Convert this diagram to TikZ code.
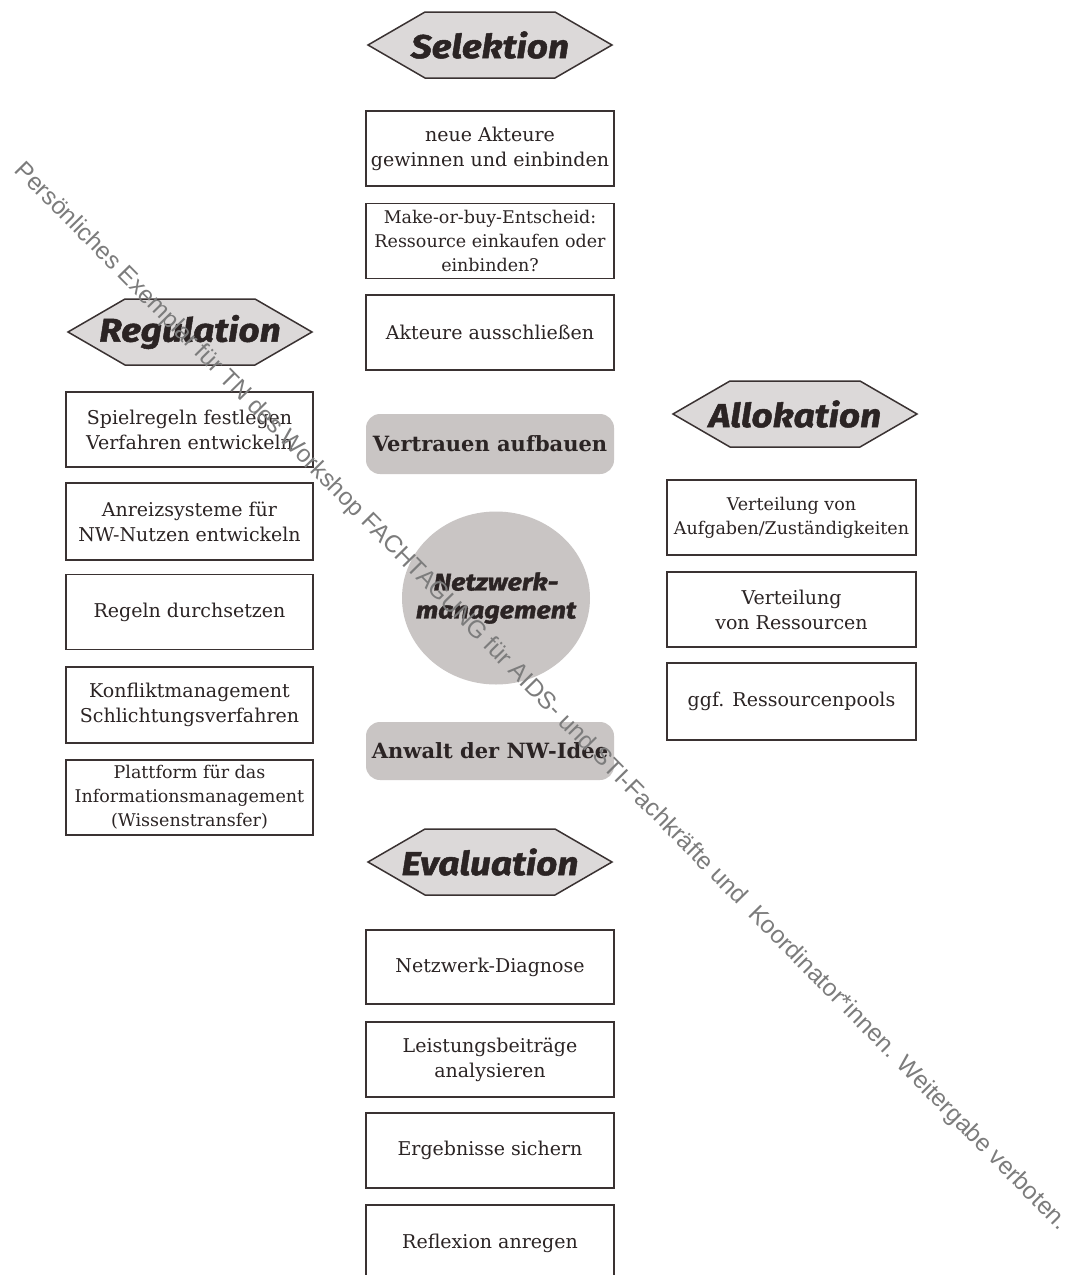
\documentclass[tikz,border=0pt]{standalone}
\usepackage{fontspec}
\usetikzlibrary{shapes.geometric}
\setmainfont{DejaVu Serif}
\newfontfamily\hdrfont{Fira Sans}[FakeStretch=1.12,FakeBold=1.5]
\newfontfamily\wmfont{Liberation Sans}
\definecolor{boxc}{HTML}{3A3232}
\definecolor{textc}{HTML}{2B2424}
\definecolor{grayfill}{HTML}{C9C5C4}
\definecolor{hexfill}{HTML}{DCD9D9}
\definecolor{wmc}{HTML}{7C7C7C}
\tikzset{
  x=1pt, y=-1pt,
  box/.style={draw=boxc, line width=1.8pt, fill=white, minimum width=248pt,
    minimum height=75pt, align=center, inner sep=0pt, text=textc,
    font=\fontsize{19}{25}\selectfont},
  smallbox/.style={box, font=\fontsize{17.5}{24}\selectfont},
  pill/.style={fill=grayfill, rounded corners=14pt, minimum width=248pt,
    minimum height=60pt, align=center, inner sep=0pt, text=textc,
    font=\fontsize{21}{24}\selectfont\bfseries},
  hdr/.style={inner sep=0pt, text=textc, font=\hdrfont\fontsize{33}{36}\selectfont\bfseries\itshape},
  hexline/.style={draw=boxc, line width=1.5pt, fill=hexfill},
}
\newcommand\hexhdr[4]{%
  \filldraw[hexline] (#2-122,#3) -- ++(57,-33) -- ++(130,0) -- ++(57,33)
     -- ++(-57,33) -- ++(-130,0) -- cycle;
  \node[hdr] (#1) at (#2,#3) {#4};}
\begin{document}
\begin{tikzpicture}
\useasboundingbox (0,0) rectangle (1073,1275);
\fill[white] (0,0) rectangle (1073,1275);
\clip (0,0) rectangle (1073,1275);

% headers
\hexhdr{hsel}{490}{45}{Selektion}
\hexhdr{hreg}{190}{332}{Regulation}
\hexhdr{hall}{795}{414}{Allokation}
\hexhdr{heva}{490}{862}{Evaluation}

% Selektion
\node[box] (s1) at (490,148.5) {neue Akteure\\gewinnen und einbinden};
\node[smallbox] (s2) at (490,241) {Make-or-buy-Entscheid:\\Ressource einkaufen oder\\einbinden?};
\node[box] (s3) at (490,332.5) {Akteure ausschließen};

% center
\node[pill] (vert) at (490,444) {Vertrauen aufbauen};
\node[ellipse, fill=grayfill, minimum width=188pt, minimum height=173pt, inner sep=0pt]
      (nwm) at (496,598) {};
\node[inner sep=0pt, align=center, text=textc,
      font=\hdrfont\fontsize{24}{28}\selectfont\bfseries\itshape]
      (nwmtext) at (nwm.center) {Netzwerk-\\management};
\node[pill, minimum height=58pt] (anw) at (490,751) {Anwalt der NW-Idee};

% Regulation
\node[box, minimum width=247pt] (r1) at (189.5,429.5) {Spielregeln festlegen\\Verfahren entwickeln};
\node[box, minimum width=247pt, minimum height=77pt] (r2) at (189.5,521.5) {Anreizsysteme für\\NW-Nutzen entwickeln};
\node[box, minimum width=247pt] (r3) at (189.5,612) {Regeln durchsetzen};
\node[box, minimum width=247pt, minimum height=76pt] (r4) at (189.5,705) {Konfliktmanagement\\Schlichtungsverfahren};
\node[smallbox, minimum width=247pt] (r5) at (189.5,797.5) {Plattform für das\\Informationsmanagement\\(Wissenstransfer)};

% Allokation
\node[smallbox, minimum width=249pt] (a1) at (791.5,517.5) {Verteilung von\\Aufgaben/Zuständigkeiten};
\node[box, minimum width=249pt] (a2) at (791.5,609.5) {Verteilung\\von Ressourcen};
\node[box, minimum width=249pt, minimum height=77pt] (a3) at (791.5,701.5) {ggf. Ressourcenpools};

% Evaluation
\node[box, minimum height=74pt] (e1) at (490,967) {Netzwerk-Diagnose};
\node[box] (e2) at (490,1059.5) {Leistungsbeiträge\\analysieren};
\node[box] (e3) at (490,1150.5) {Ergebnisse sichern};
\node[box, minimum height=76pt] (e4) at (490,1243) {Reflexion anregen};

% watermark
\node[inner sep=0pt, text=wmc, rotate=-45.4, font=\wmfont\fontsize{24.4}{26}\selectfont]
  (wm) at (541,697) {Persönliches Exemplar für TN des Workshop FACHTAGUNG für AIDS- und STI-Fachkräfte und~~Koordinator*innen. Weitergabe verboten.};
\end{tikzpicture}
\end{document}
